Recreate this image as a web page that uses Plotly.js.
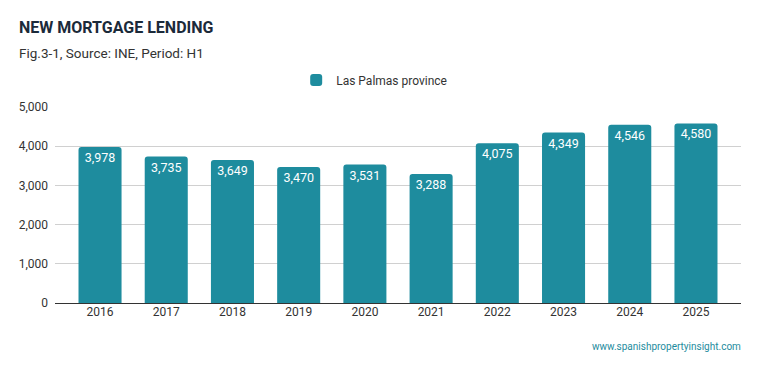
<!DOCTYPE html>
<html><head><meta charset="utf-8">
<script src="https://cdn.plot.ly/plotly-3.0.1.min.js"></script>
<style>html,body{margin:0;padding:0;background:#fff}#c{width:759px;height:371px}</style>
</head><body><div id="c"></div>
<script>
const years = ["2016","2017","2018","2019","2020","2021","2022","2023","2024","2025"];
const lasPalmas = [3978, 3735, 3649, 3470, 3531, 3288, 4075, 4349, 4546, 4580];
const seriesName = "Las Palmas province";
const tickVals = [0, 1000, 2000, 3000, 4000, 5000];

const teal = "#1e8c9e";
const trace = {
  type: "bar", x: years, y: lasPalmas, name: seriesName,
  marker: {color: teal},
  width: 0.65,
  text: lasPalmas.map(v => v.toLocaleString("en-US")),
  textposition: "inside", insidetextanchor: "end",
  textfont: {color: "#ffffff", size: 12.5, family: "Roboto"},
  hoverinfo: "x+y"
};
const layout = {
  width: 759, height: 371,
  margin: {l: 55, r: 18, t: 107, b: 68},
  paper_bgcolor: "#fff", plot_bgcolor: "#fff",
  font: {family: "Roboto", size: 12, color: "#444"},
  barcornerradius: 3,
  showlegend: true,
  legend: {orientation: "h", xref: "container", x: 0.493, xanchor: "center", yref: "container", y: 1 - 80/371, yanchor: "middle", font: {size: 12, color: "#333"}},
  xaxis: {type: "category", range: [-0.68, 9.68], showgrid: false, ticks: "", tickfont: {size: 12, color: "#333"}, showline: false, zeroline: false},
  yaxis: {range: [0, 5000], tickvals: tickVals, tickformat: ",d", showgrid: true, gridcolor: "#d0d0d0", gridwidth: 1,
          zeroline: true, zerolinecolor: "#333", zerolinewidth: 1, tickfont: {size: 12, color: "#333"}, ticks: "", ticklabelstandoff: 6},
  annotations: [
    {text: "<b>NEW MORTGAGE LENDING</b>", xref: "paper", yref: "paper", x: (17-55)/686, y: (303-27)/196, xanchor: "left", yanchor: "middle", showarrow: false, font: {size: 16, color: "#1b2a3a", family: "Roboto"}},
    {text: "Fig.3-1, Source: INE, Period: H1", xref: "paper", yref: "paper", x: (17-55)/686, y: (303-53)/196, xanchor: "left", yanchor: "middle", showarrow: false, font: {size: 13.5, color: "#333", family: "Roboto"}},
    {text: "www.spanishpropertyinsight.com", xref: "paper", yref: "paper", x: (743-55)/686, y: (303-346)/196, xanchor: "right", yanchor: "middle", showarrow: false, font: {size: 10, color: teal, family: "Roboto"}}
  ]
};
Plotly.newPlot("c", [trace], layout, {displayModeBar: false, staticPlot: true});
</script></body></html>
